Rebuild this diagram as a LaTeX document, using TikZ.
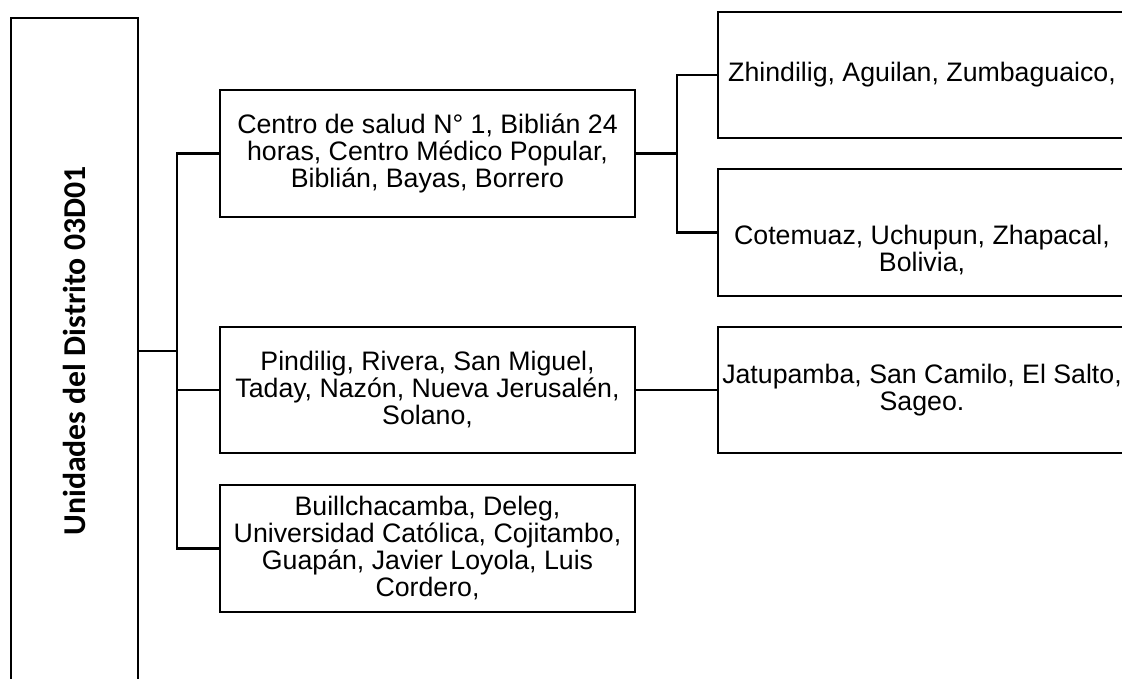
\documentclass[tikz,border=0pt]{standalone}
\usepackage{fontspec}
\setmainfont{Liberation Sans}
\newfontfamily\rootfont{Carlito}
\begin{document}
\begin{tikzpicture}[x=0.025cm,y=-0.025cm,
	    caja/.style={draw,line width=1.6pt,rectangle,align=center,inner sep=2pt,font=\fontsize{19}{19.2}\selectfont},
	    hoja/.style={caja,minimum width=10.375cm,minimum height=3.16cm},
	    rama/.style={caja,minimum width=10.2cm,minimum height=3.16cm},
	    linea/.style={line width=1.6pt}]
	    \useasboundingbox (0,0) rectangle (1122,678);
	    \clip (0,0) rectangle (1122,678);
	    \node[caja,rotate=90,minimum width=16.65cm,minimum height=3.175cm,font=\rootfont\bfseries\fontsize{22.6}{24}\selectfont](raiz) at (74.5,351){Unidades del Distrito 03D01};
	    \node[hoja](u1) at (427.5,153.5){Centro de salud N° 1, Biblián 24\\horas, Centro Médico Popular,\\Biblián, Bayas, Borrero};
	    \node[hoja](u2) at (427.5,390){Pindilig, Rivera, San Miguel,\\Taday, Nazón, Nueva Jerusalén,\\Solano,};
	    \node[hoja](u3) at (427.5,548.5){Buillchacamba, Deleg,\\Universidad Católica, Cojitambo,\\Guapán, Javier Loyola, Luis\\Cordero,};
	    \node[rama](p1) at (922,75){Zhindilig, Aguilan, Zumbaguaico,};
	    \node[rama](p2) at (922,232.5){\mbox{}\\[20pt]Cotemuaz, Uchupun, Zhapacal,\\Bolivia,};
	    \node[rama](p3) at (922,390){Jatupamba, San Camilo, El Salto,\\Sageo.};
	    \coordinate (j1) at (177,351);
	    \coordinate (j2) at (677,153.5);
	    \draw[linea](raiz.south)--(j1);
	    \draw[linea](u1.west)-|(j1)|-(u3.west);
	    \draw[linea](u2.west)--(u2.west-|j1);
	    \draw[linea](u1.east)--(j2);
	    \draw[linea](p1.west)-|(j2)|-(p2.west);
	    \draw[linea](u2.east)--(p3.west);
\end{tikzpicture}
\end{document}
